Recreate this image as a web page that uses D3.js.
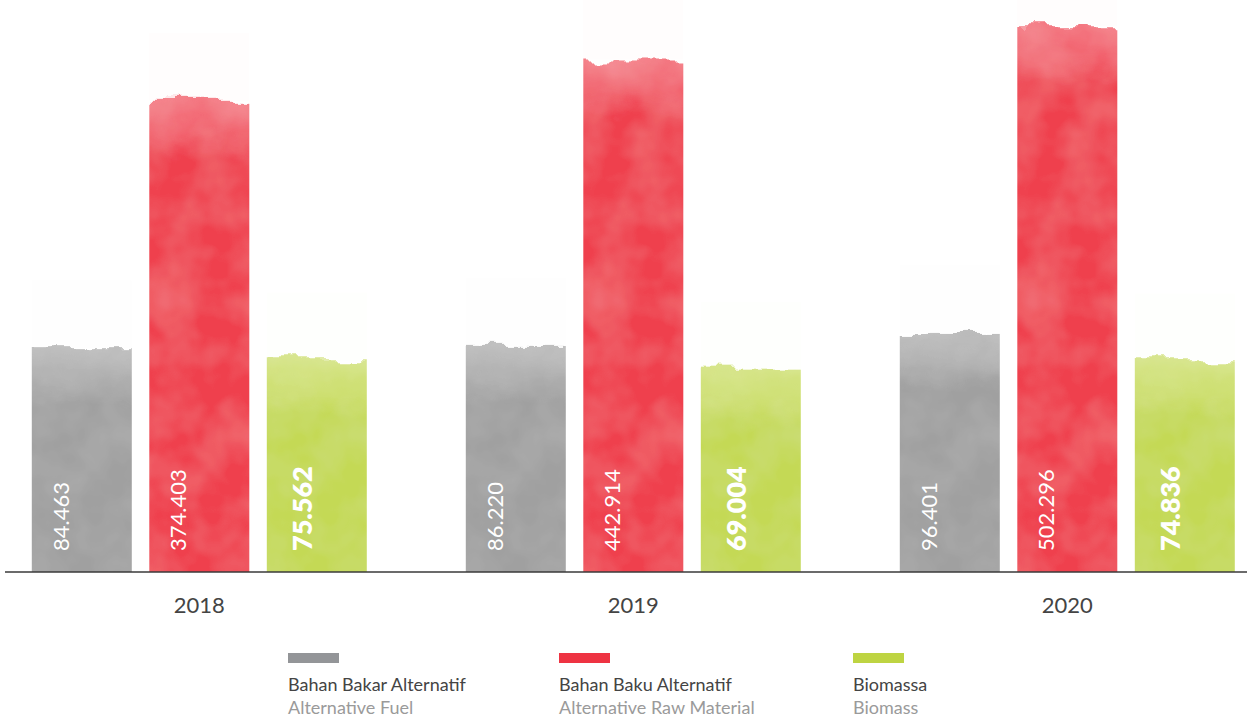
<!DOCTYPE html>
<html>
<head>
<meta charset="utf-8">
<script src="https://cdn.jsdelivr.net/npm/d3@7"></script>
<style>
  html, body { margin: 0; padding: 0; background: #ffffff; }
  svg { display: block; font-family: Lato, "Open Sans", sans-serif; }
</style>
</head>
<body>
<svg id="chart" width="1247" height="717"></svg>
<script>
// Yearly volumes (tonnes), three material streams
const years = ["2018", "2019", "2020"];
const seriesKeys = ["fuel", "raw", "biomass"];
const fuelValues = [84463, 86220, 96401];
const rawValues = [374403, 442914, 502296];
const biomassValues = [75562, 69004, 74836];
const seriesNames = ["Bahan Bakar Alternatif", "Bahan Baku Alternatif", "Biomassa"];
const seriesSubtitles = ["Alternative Fuel", "Alternative Raw Material", "Biomass"];
const barColors = ["#a0a0a0", "#ef3f4d", "#c4d955"];
const swatchColors = ["#939598", "#ee3342", "#bed442"];

const valuesByKey = { fuel: fuelValues, raw: rawValues, biomass: biomassValues };

const svg = d3.select("#chart");
const baseline = 572;

const fmt = d3.formatLocale({ decimal: ",", thousands: ".", grouping: [3], currency: ["", ""] }).format(",d");

// Scales
const x0 = d3.scaleBand().domain(years).range([-17.7, 1284.3]);
const x1 = d3.scaleBand().domain(seriesKeys).range([-167.5, 167.5]).paddingInner(0.149);
const y = d3.scaleSqrt().domain([0, 550000]).range([baseline, 1]);
const color = d3.scaleOrdinal().domain(seriesKeys).range(barColors);

// Painted look: ragged edge + mottled surface
const defs = svg.append("defs");
const f = defs.append("filter").attr("id", "paint")
  .attr("x", "-20%").attr("y", "-20%").attr("width", "140%").attr("height", "140%");
f.append("feTurbulence").attr("type", "fractalNoise").attr("baseFrequency", "0.025 0.035")
  .attr("numOctaves", 4).attr("seed", 11).attr("result", "noise");
f.append("feDisplacementMap").attr("in", "SourceGraphic").attr("in2", "noise")
  .attr("scale", 24).attr("xChannelSelector", "R").attr("yChannelSelector", "G").attr("result", "disp");
f.append("feTurbulence").attr("type", "fractalNoise").attr("baseFrequency", "0.022")
  .attr("numOctaves", 3).attr("seed", 3).attr("result", "noise2");
f.append("feColorMatrix").attr("in", "noise2").attr("type", "matrix")
  .attr("values", "0 0 0 0 1  0 0 0 0 1  0 0 0 0 1  0.18 0 0 0 -0.06").attr("result", "speck");
f.append("feComposite").attr("in", "speck").attr("in2", "disp").attr("operator", "in").attr("result", "speckIn");
const merge = f.append("feMerge");
merge.append("feMergeNode").attr("in", "disp");
merge.append("feMergeNode").attr("in", "speckIn");

const topFade = defs.append("linearGradient").attr("id", "topFade")
  .attr("x1", 0).attr("y1", 0).attr("x2", 0).attr("y2", 1);
topFade.append("stop").attr("offset", 0).attr("stop-color", "#fff").attr("stop-opacity", 0.3);
topFade.append("stop").attr("offset", 0.6).attr("stop-color", "#fff").attr("stop-opacity", 0.16);
topFade.append("stop").attr("offset", 1).attr("stop-color", "#fff").attr("stop-opacity", 0);

const bars = [];
years.forEach((yr, i) => {
  seriesKeys.forEach((k, j) => {
    bars.push({ year: yr, key: k, idx: j, value: valuesByKey[k][i] });
  });
});

const bw = x1.bandwidth();

// one shared clip in bar-local coordinates; each group's translate positions it
defs.append("clipPath").attr("id", "barClip")
  .append("rect").attr("x", 0).attr("y", 0).attr("width", bw).attr("height", baseline);

const groups = svg.append("g").selectAll("g.bar").data(bars).join("g")
  .attr("class", "bar")
  .attr("transform", d => `translate(${x0(d.year) + x0.bandwidth() / 2 + x1(d.key)},0)`);

groups.each(function (d) {
  const g = d3.select(this);
  const top = y(d.value);
  // faint wash above the bar
  g.append("rect").attr("x", 0).attr("width", bw)
    .attr("y", top - 68).attr("height", 68)
    .attr("fill", color(d.key)).attr("fill-opacity", 0.01);

  const painted = g.append("g").attr("clip-path", "url(#barClip)")
    .append("g").attr("filter", "url(#paint)");
  painted.append("rect").attr("x", -16).attr("width", bw + 32)
    .attr("y", top).attr("height", baseline - top + 16)
    .attr("fill", color(d.key));
  painted.append("rect").attr("x", -16).attr("width", bw + 32)
    .attr("y", top).attr("height", 58)
    .attr("fill", "url(#topFade)");

  const bold = d.key === "biomass";
  g.append("text")
    .attr("transform", `translate(${bold ? 45 : 37},${baseline - 21}) rotate(-90)`)
    .attr("fill", "#fff")
    .attr("font-size", bold ? 27 : 22)
    .attr("font-weight", bold ? 800 : 400)
    .text(fmt(d.value));
});

// Baseline
svg.append("line").attr("x1", 5).attr("x2", 1247).attr("y1", baseline).attr("y2", baseline)
  .attr("stroke", "#3a3a3a").attr("stroke-width", 1.4);

// Year labels
const xAxis = svg.append("g").attr("transform", `translate(0,${baseline})`)
  .call(d3.axisBottom(x0).tickSize(0).tickPadding(0));
xAxis.select(".domain").remove();
xAxis.selectAll("text").attr("font-size", 22).attr("fill", "#444")
  .attr("font-family", "Lato, sans-serif").attr("dy", null).attr("y", 41);

// Legend
const legendX = [288, 559, 853];
const legend = svg.append("g").selectAll("g").data(seriesKeys).join("g")
  .attr("transform", (d, i) => `translate(${legendX[i]},0)`);
legend.append("rect").attr("x", 0).attr("y", 653).attr("width", 51).attr("height", 10)
  .attr("fill", (d, i) => swatchColors[i]);
legend.append("text").attr("y", 691).attr("font-size", 18).attr("fill", "#444")
  .text((d, i) => seriesNames[i]);
legend.append("text").attr("y", 714).attr("font-size", 18).attr("fill", "#9a9a9a")
  .text((d, i) => seriesSubtitles[i]);
</script>
</body>
</html>
